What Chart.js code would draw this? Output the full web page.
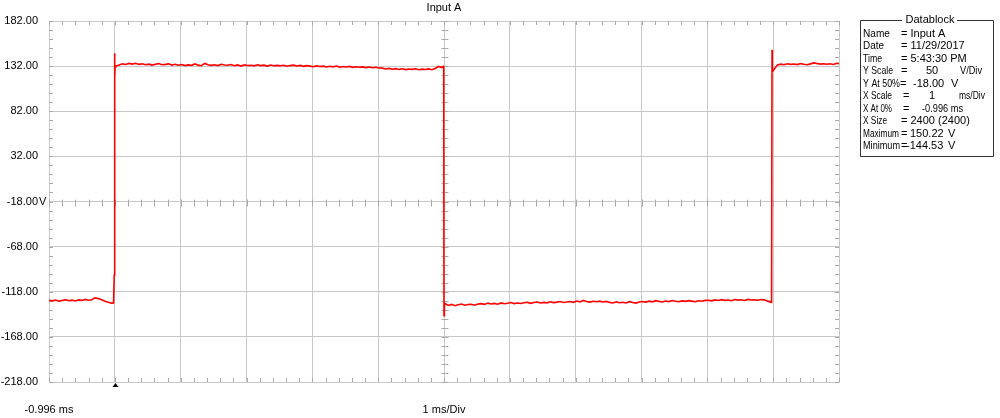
<!DOCTYPE html>
<html>
<head>
<meta charset="utf-8">
<script src="https://cdn.jsdelivr.net/npm/chart.js@4.4.1/dist/chart.umd.min.js"></script>
<style>
  html, body { margin: 0; padding: 0; background: #fff; }
  #wrap { width: 1000px; height: 418px; }
</style>
</head>
<body>
<div id="wrap"><canvas id="scope" width="1000" height="418"></canvas></div>
<script>
// axis setup (1 ms/div, 50 V/div)
const xStartMs = -0.996;
const xEndMs = 11.004;
const xDivTicks = [-0.996, 0.004, 1.004, 2.004, 3.004, 4.004, 5.004, 6.004, 7.004, 8.004, 9.004, 10.004, 11.004];
const yTicks = [182, 132, 82, 32, -18, -68, -118, -168, -218];
const sampleStepMs = 0.05;

// trace in pieces
const lowAStartMs = -0.996;
const lowA = [-127.5, -128.1, -127.2, -128.4, -127.6, -126.8, -127.9, -127.3, -128.2, -127.0,
  -127.6, -126.5, -127.4, -126.9, -124.8, -125.6, -126.9, -128.6, -129.7, -130.6];

const edge1Ms = [-0.015, -0.005, 0.0, 0.004, 0.008];
const edge1V = [-130.4, -99.5, 146.3, 119.8, 131.4];

const highAStartMs = 0.02;
const highA = [132.0, 133.2, 134.5, 133.8, 135.0, 134.2, 135.1,
  133.9, 134.6, 133.5, 134.2, 133.1, 134.0, 134.8, 133.6, 133.9, 134.5, 133.2, 134.1,
  133.0, 133.8, 132.6, 133.4, 132.9, 134.4, 133.1, 132.4, 135.0, 133.6,
  132.8, 133.5, 132.6, 134.0, 133.2, 132.9, 133.7, 132.5, 133.3, 132.1, 133.4, 132.7, 133.0, 132.3, 133.5, 132.6, 133.1, 132.0, 133.2, 132.5, 132.8,
  132.4, 133.0, 131.9, 132.6, 133.1, 132.2, 132.8, 131.8, 132.5,
  132.0, 131.4, 132.3, 131.6, 132.0, 131.1, 131.8, 131.2, 132.1, 130.9, 131.5, 131.0, 131.7, 130.6, 131.3, 130.8, 131.2, 130.4, 131.0, 130.2, 130.7, 129.9,
  129.8, 128.9, 129.5, 128.6, 129.2, 128.3, 129.0, 128.1, 128.8, 128.4, 129.1, 128.0, 128.7, 128.2, 128.9, 128.0, 129.4, 131.6, 130.4];

const edge2Ms = [4.99, 5.0, 5.004, 5.01];
const edge2V = [131.6, 129.2, -144.53, -131.8];

const lowBStartMs = 5.02;
const lowB = [-131.0, -133.2, -132.0, -133.5, -132.4, -131.6, -133.0, -132.2, -131.8, -132.9, -131.5,
  -131.2, -132.0, -130.6, -131.5, -130.9, -131.8, -130.4, -131.3, -130.8, -129.9, -131.1, -130.5, -131.0,
  -130.2, -129.6, -130.8, -130.0, -129.4, -130.5, -129.8, -130.3, -129.1, -130.0, -129.5, -128.8, -129.9,
  -129.4, -128.9, -129.7, -128.3, -129.2, -127.6, -128.8, -129.5, -128.6, -129.1, -128.4, -129.3, -128.7,
  -129.8, -130.5, -129.2, -130.1, -129.6, -130.4, -129.0, -129.9, -130.6, -129.3,
  -128.8, -129.5, -128.4, -129.2, -127.9, -128.7, -129.3, -128.2, -128.9, -127.7, -128.5, -129.0, -128.1, -128.6, -127.8, -128.4, -129.1, -128.0, -128.5, -127.6,
  -127.4, -128.1, -127.0, -127.7, -126.8, -127.5, -127.1, -127.9, -126.6, -127.3, -126.9, -127.6, -126.5, -127.2, -126.8, -127.4, -126.6, -127.0,
  -128.4, -129.5];

const edge3Ms = [9.98, 9.987, 9.991];
const edge3V = [-129.8, 150.22, 125.8];

const highBStartMs = 10.02;
const highB = [128.6, 133.4, 134.2, 133.5, 134.6, 133.9, 134.3, 133.7, 134.8, 134.0,
  133.6, 134.5, 135.6, 134.9, 134.2, 134.7, 134.1, 134.6, 133.8, 135.2, 134.5];

const datablockRows = [
  ['Name', '= Input A'],
  ['Date', '= 11/29/2017'],
  ['Time', '= 5:43:30 PM'],
  ['Y Scale', '=', '50', 'V/Div'],
  ['Y At 50%', '=', '-18.00', 'V'],
  ['X Scale', '=', '1', 'ms/Div'],
  ['X At 0%', '=', '-0.996 ms'],
  ['X Size', '= 2400 (2400)'],
  ['Maximum', '=', '150.22', 'V'],
  ['Minimum', '=', '-144.53', 'V']
];

const FONT = '"Liberation Sans", Arial, sans-serif';
const gridColor = 'rgb(200,200,200)';
const minorColor = 'rgb(170,170,170)';

const trace = [];
function addSegment(startMs, values) {
  values.forEach((v, i) => trace.push({ x: startMs + i * sampleStepMs, y: v }));
}
function addEdge(times, volts) {
  times.forEach((t, i) => trace.push({ x: t, y: volts[i] }));
}
addSegment(lowAStartMs, lowA);
addEdge(edge1Ms, edge1V);
addSegment(highAStartMs, highA);
addEdge(edge2Ms, edge2V);
addSegment(lowBStartMs, lowB);
addEdge(edge3Ms, edge3V);
addSegment(highBStartMs, highB);

// datablock layout: column x and max text width per piece (the original font is narrower)
const dbCols = [
  [863, 901], [863, 901], [863, 901],
  [863, 901, 926, 960],
  [863, 900, 913, 951],
  [863, 903, 929, 959],
  [863, 903, 922],
  [863, 901],
  [863, 901, 910, 948],
  [863, 901, 906, 948]
];
const dbWidths = [
  [27], [21], [19],
  [30, null, null, 22],
  [37],
  [29, null, null, 26],
  [29, null, 41],
  [24],
  [36],
  [37]
];

const scopeDecor = {
  id: 'scopeDecor',
  beforeDatasetsDraw(chart) {
    const { ctx, chartArea: a, scales: { x, y } } = chart;
    ctx.save();
    ctx.strokeStyle = minorColor;
    ctx.lineWidth = 1;
    ctx.beginPath();
    const cx = Math.round(x.getPixelForValue(xDivTicks[6])) + 0.5;
    const cy = Math.round(y.getPixelForValue(-18)) + 0.5;
    for (let k = 0; k <= 60; k++) {
      const px = Math.round(x.getPixelForValue(xStartMs + k * 0.2)) + 0.5;
      ctx.moveTo(px, a.top); ctx.lineTo(px, a.top + 4);
      ctx.moveTo(px, a.bottom); ctx.lineTo(px, a.bottom - 4);
      ctx.moveTo(px, cy - 3); ctx.lineTo(px, cy + 4);
    }
    for (let v = -218; v <= 182; v += 10) {
      const py = Math.round(y.getPixelForValue(v)) + 0.5;
      ctx.moveTo(a.left, py); ctx.lineTo(a.left + 4, py);
      ctx.moveTo(a.right, py); ctx.lineTo(a.right - 4, py);
      ctx.moveTo(cx - 3, py); ctx.lineTo(cx + 4, py);
    }
    ctx.stroke();
    ctx.restore();
  },
  afterDraw(chart) {
    const { ctx, chartArea: a, scales: { x, y } } = chart;
    ctx.save();
    ctx.fillStyle = '#000';
    ctx.font = '11px ' + FONT;
    ctx.textBaseline = 'middle';
    // title
    ctx.textAlign = 'center';
    ctx.fillText('Input A', (a.left + a.right) / 2, 8);
    // V after the centre label
    ctx.textAlign = 'left';
    ctx.fillText('V', 39, y.getPixelForValue(-18));
    // trigger marker
    const tx = Math.round(x.getPixelForValue(0)) + 0.5;
    ctx.beginPath();
    ctx.moveTo(tx - 3, a.bottom + 5);
    ctx.lineTo(tx + 3, a.bottom + 5);
    ctx.lineTo(tx, a.bottom + 1);
    ctx.closePath();
    ctx.fill();
    // datablock
    const bx0 = 860.5, bx1 = 993.5, by0 = 20.5, by1 = 156.5;
    ctx.strokeStyle = '#333';
    ctx.lineWidth = 1;
    ctx.beginPath();
    ctx.moveTo(902, by0); ctx.lineTo(bx0, by0); ctx.lineTo(bx0, by1);
    ctx.lineTo(bx1, by1); ctx.lineTo(bx1, by0); ctx.lineTo(957, by0);
    ctx.stroke();
    ctx.textAlign = 'center';
    ctx.fillText('Datablock', 930, 20);
    ctx.textAlign = 'left';
    datablockRows.forEach((row, i) => {
      const ry = 33.5 + i * 12.5;
      row.forEach((txt, j) => {
        const w = dbWidths[i][j];
        if (w) ctx.fillText(txt, dbCols[i][j], ry, w);
        else ctx.fillText(txt, dbCols[i][j], ry);
      });
    });
    ctx.restore();
  }
};

const config = {
  type: 'line',
  data: {
    datasets: [{
      data: trace,
      borderColor: 'rgb(255,0,0)',
      borderWidth: 1.6,
      pointRadius: 0,
      tension: 0
    }]
  },
  options: {
    responsive: false,
    animation: false,
    devicePixelRatio: 1,
    layout: { padding: { top: 21, right: 161, bottom: 0, left: 0 } },
    plugins: {
      legend: { display: false },
      title: { display: false },
      tooltip: { enabled: false }
    },
    scales: {
      x: {
        type: 'linear',
        min: xStartMs,
        max: xEndMs,
        afterBuildTicks: s => { s.ticks = xDivTicks.map(v => ({ value: v })); },
        afterFit: s => { s.height = 36; },
        grid: { color: gridColor, lineWidth: 1, drawTicks: false },
        border: { color: gridColor },
        ticks: {
          autoSkip: false,
          maxRotation: 0,
          padding: 21,
          color: '#000',
          font: { family: FONT, size: 11 },
          callback: (v, i) => (i === 0 ? '-0.996 ms' : (i === 6 ? '1 ms/Div' : ''))
        }
      },
      y: {
        min: -218,
        max: 182,
        afterBuildTicks: s => { s.ticks = yTicks.map(v => ({ value: v })); },
        afterFit: s => { s.width = 49; },
        grid: { color: gridColor, lineWidth: 1, drawTicks: false },
        border: { color: gridColor },
        ticks: {
          padding: 11,
          color: '#000',
          font: { family: FONT, size: 11 },
          callback: v => v.toFixed(2)
        }
      }
    }
  },
  plugins: [scopeDecor]
};

const scopeChart = new Chart(document.getElementById('scope'), config);
</script>
</body>
</html>
